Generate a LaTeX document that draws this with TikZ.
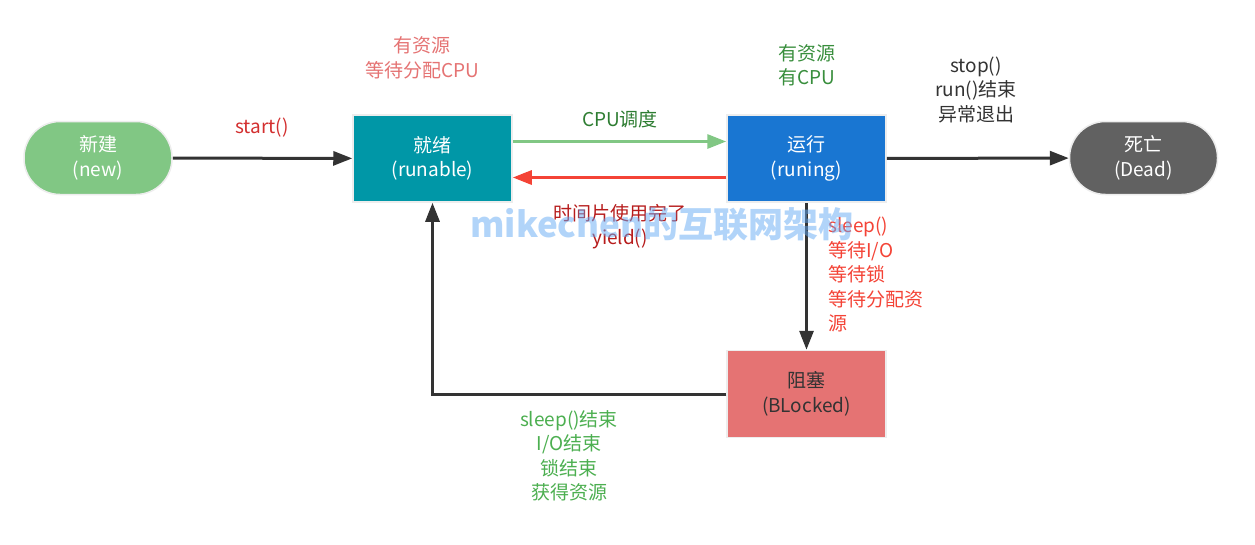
\documentclass[tikz,border=0pt]{standalone}
\usepackage{fontspec}
\setmainfont{Noto Sans CJK SC}
\usetikzlibrary{arrows.meta}
\definecolor{newfill}{HTML}{81C784}
\definecolor{readyfill}{HTML}{0097A7}
\definecolor{runfill}{HTML}{1976D2}
\definecolor{deadfill}{HTML}{616161}
\definecolor{blkfill}{HTML}{E57373}
\definecolor{darkline}{HTML}{333333}
\definecolor{greenline}{HTML}{81C784}
\definecolor{redline}{HTML}{F44336}
\definecolor{startc}{HTML}{D32F2F}
\definecolor{waitc}{HTML}{E57373}
\definecolor{cpuc}{HTML}{2E7D32}
\definecolor{havec}{HTML}{388E3C}
\definecolor{slicec}{HTML}{B71C1C}
\definecolor{sleepc}{HTML}{F44336}
\definecolor{endc}{HTML}{4CAF50}
\definecolor{wmc}{RGB}{100,170,245}
\begin{document}
\begin{tikzpicture}[x=1pt,y=-1pt,
  txt/.style={font=\fontsize{19}{24.5}\selectfont, align=center, inner sep=0pt},
  pill/.style={txt, text=white, minimum width=148pt, minimum height=73pt, rounded corners=36pt, draw=black!7, line width=1.5pt},
  box/.style={txt, text=white, minimum width=159pt, minimum height=87pt, draw=black!7, line width=1.5pt},
  conn/.style={line width=3pt, -{Triangle[length=19pt,width=14pt]}},
]
\useasboundingbox[fill=white] (0,0) rectangle (1255,544);

\node[pill, fill=newfill] (new) at (98,158) {新建\\(new)};
\node[box, fill=readyfill] (ready) at (432.5,158.5) {就绪\\(runable)};
\node[box, fill=runfill] (run) at (806.5,158.5) {运行\\(runing)};
\node[pill, fill=deadfill] (dead) at (1143.5,158) {死亡\\(Dead)};
\node[box, fill=blkfill, text=darkline] (blk) at (806.5,394) {阻塞\\(BLocked)};

\draw[conn, darkline] (new) -- (ready);
\draw[conn, greenline] ([yshift=17pt]ready.east) -- ([yshift=17pt]run.west);
\draw[conn, redline] ([yshift=-19pt]run.west) -- ([yshift=-19pt]ready.east);
\draw[conn, darkline] (run) -- (dead);
\draw[conn, darkline] (run) -- (blk);
\draw[conn, darkline] (blk.west) -| (ready.south);

\node[txt, text=startc] (lstart) at (262,128) {start()};
\node[txt, text=waitc] (lwait) at (422,58) {有资源\\等待分配CPU};
\node[txt, text=cpuc] (lcpu) at (620,119) {CPU调度};
\node[txt, text=havec] (lhave) at (807,65.5) {有资源\\有CPU};
\node[txt, text=darkline] (lstop) at (976,90) {stop()\\run()结束\\异常退出};
\node[txt, text=slicec] (lslice) at (620,226.5) {时间片使用完了\\yield()};
\node[txt, text=sleepc, align=left, anchor=west] (lsleep) at (828,274.5) {sleep()\\等待I/O\\等待锁\\等待分配资\\源};
\node[txt, text=endc] (lend) at (569,456) {sleep()结束\\I/O结束\\锁结束\\获得资源};

\node[inner sep=0pt, text=wmc, opacity=0.5, font=\fontsize{35}{40}\selectfont\bfseries] (wm) at (662,224) {mikechen的互联网架构};
\end{tikzpicture}
\end{document}
